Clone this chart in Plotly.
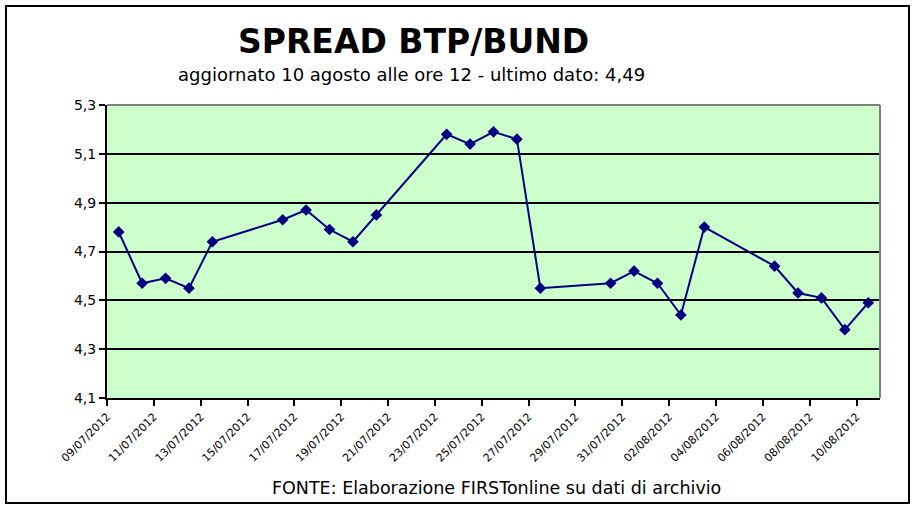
import pandas as pd
import plotly.graph_objects as go

# ---- data ----
dates = ["2012-07-09", "2012-07-10", "2012-07-11", "2012-07-12", "2012-07-13",
         "2012-07-16", "2012-07-17", "2012-07-18", "2012-07-19", "2012-07-20",
         "2012-07-23", "2012-07-24", "2012-07-25", "2012-07-26", "2012-07-27",
         "2012-07-30", "2012-07-31", "2012-08-01", "2012-08-02", "2012-08-03",
         "2012-08-06", "2012-08-07", "2012-08-08", "2012-08-09", "2012-08-10"]
spread = [4.78, 4.57, 4.59, 4.55, 4.74,
          4.83, 4.87, 4.79, 4.74, 4.85,
          5.18, 5.14, 5.19, 5.16, 4.55,
          4.57, 4.62, 4.57, 4.44, 4.80,
          4.64, 4.53, 4.51, 4.38, 4.49]
y_ticks = [4.1, 4.3, 4.5, 4.7, 4.9, 5.1, 5.3]
x_tick_dates = pd.date_range("2012-07-09", "2012-08-10", freq="2D")

title_text = "<b>SPREAD BTP/BUND</b>"
subtitle_text = "aggiornato 10 agosto alle ore 12 - ultimo dato: 4,49"
footer_text = "FONTE: Elaborazione FIRSTonline su dati di archivio"

# points sit in the middle of each day (Excel date axis)
x_pts = pd.to_datetime(dates) + pd.Timedelta(hours=12)

FONT = "DejaVu Sans, Arial, sans-serif"

fig = go.Figure()
fig.add_trace(go.Scatter(
    x=x_pts, y=spread, mode="lines+markers",
    line=dict(color="#000080", width=2),
    marker=dict(symbol="diamond", size=9, color="#000080"),
    showlegend=False, hoverinfo="skip",
))

L, R, T, B = 107, 40, 105, 112
W, H = 920, 510
pw, ph = W - L - R, H - T - B

def px_x(x):
    return (x - L) / pw

def px_y(y):
    return (H - B - y) / ph

fig.update_layout(
    width=W, height=H,
    margin=dict(l=L, r=R, t=T, b=B),
    paper_bgcolor="white",
    plot_bgcolor="#CCFFCC",
    separators=",.",
    font=dict(family=FONT, color="black"),
    xaxis=dict(
        type="date",
        range=["2012-07-09", "2012-08-11"],
        tickvals=x_tick_dates,
        tickformat="%d/%m/%Y",
        tickangle=-45,
        tickfont=dict(size=11, family=FONT, color="black"),
        ticks="outside", ticklen=6, tickwidth=2, tickcolor="black",
        showline=True, linecolor="black", linewidth=2,
        showgrid=False, zeroline=False, fixedrange=True,
    ),
    yaxis=dict(
        range=[4.1, 5.3],
        tickvals=y_ticks,
        tickformat=".1f",
        tickfont=dict(size=14, family=FONT, color="black"),
        ticks="outside", ticklen=6, tickwidth=2, tickcolor="black",
        showline=True, linecolor="black", linewidth=2,
        showgrid=True, gridcolor="black", gridwidth=2,
        zeroline=False, fixedrange=True,
    ),
    shapes=[
        # plot-area top & right edges (grey)
        dict(type="line", xref="paper", yref="paper", x0=0, x1=1, y0=1, y1=1,
             line=dict(color="#808080", width=2), layer="above"),
        dict(type="line", xref="paper", yref="paper", x0=1, x1=1, y0=0, y1=1,
             line=dict(color="#808080", width=2), layer="above"),
        # outer chart border
        dict(type="rect", xref="paper", yref="paper",
             x0=px_x(6), x1=px_x(909), y0=px_y(503), y1=px_y(6),
             line=dict(color="black", width=2), fillcolor="rgba(0,0,0,0)",
             layer="below"),
    ],
    annotations=[
        dict(text=title_text, xref="paper", yref="paper",
             x=px_x(413), y=px_y(42), xanchor="center", yanchor="middle",
             showarrow=False, font=dict(size=33, family=FONT, color="black")),
        dict(text=subtitle_text, xref="paper", yref="paper",
             x=px_x(411), y=px_y(74), xanchor="center", yanchor="middle",
             showarrow=False, font=dict(size=18, family=FONT, color="black")),
        dict(text=footer_text, xref="paper", yref="paper",
             x=px_x(497), y=px_y(488), xanchor="center", yanchor="middle",
             showarrow=False, font=dict(size=17.5, family=FONT, color="black")),
    ],
)

fig.write_html("out.html",
               config={"displayModeBar": False},
               post_script="document.body.style.margin='0';document.body.style.overflow='hidden';")
